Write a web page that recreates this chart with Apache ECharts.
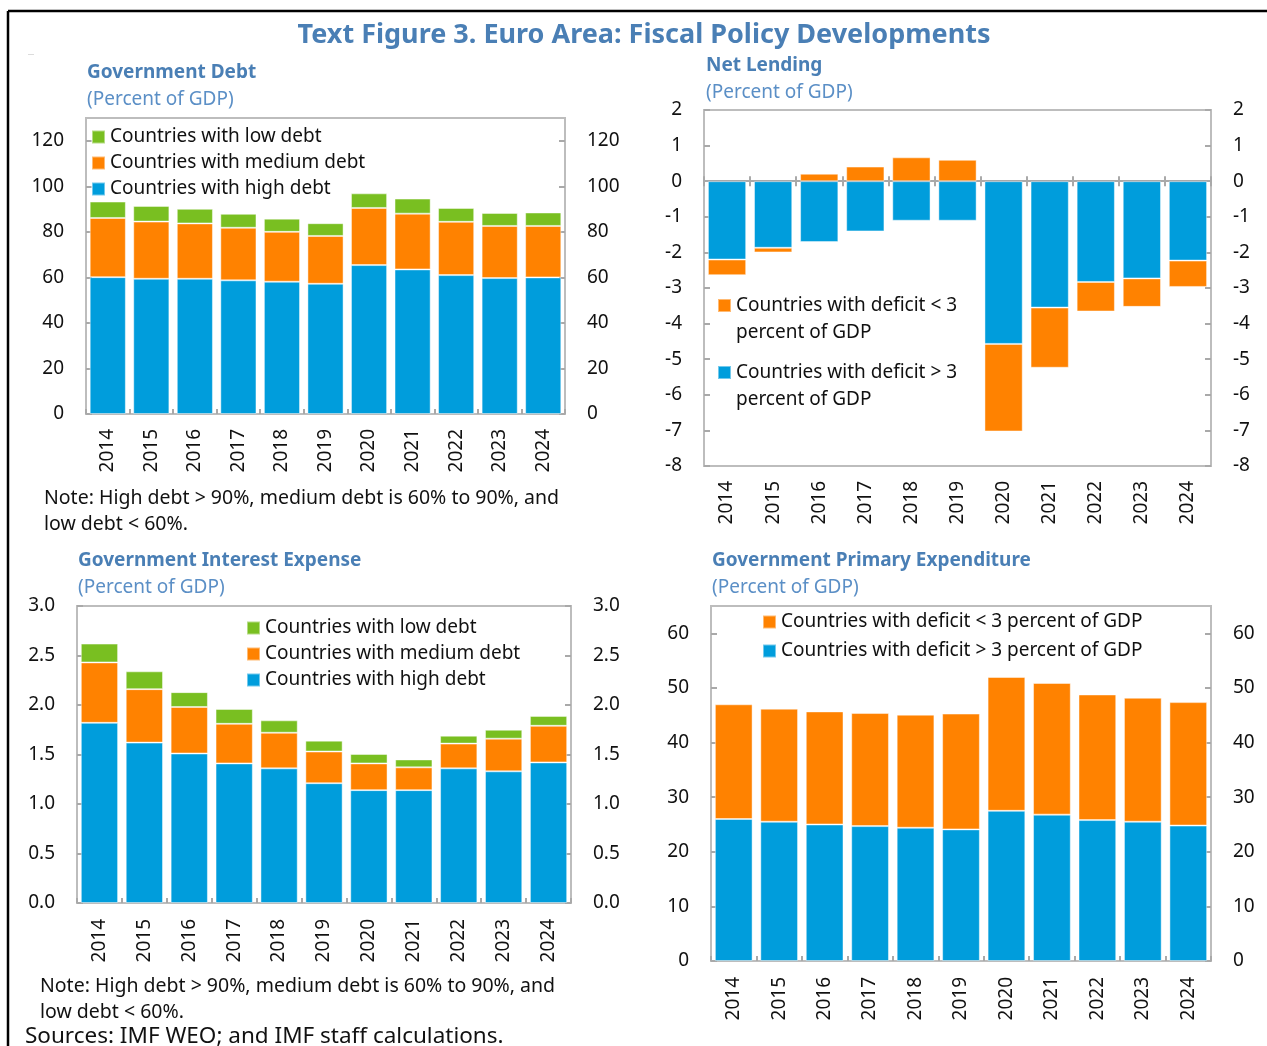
<!DOCTYPE html>
<html>
<head>
<meta charset="utf-8">
<title>Euro Area: Fiscal Policy Developments</title>
<script src="https://cdn.jsdelivr.net/npm/echarts@6/dist/echarts.min.js"></script>
<style>
  html, body { margin: 0; padding: 0; background: #fff; }
</style>
</head>
<body>
<div id="main" style="width: 1267px; height: 1046px;"></div>
<script>
// data
var years = ['2014', '2015', '2016', '2017', '2018', '2019', '2020', '2021', '2022', '2023', '2024']

// Government debt, percent of GDP (stacked contributions)
var debtHigh = [60.1, 59.4, 59.4, 58.7, 58.1, 57.2, 65.4, 63.5, 61.0, 59.7, 60.0]
var debtMedium = [26.0, 25.1, 24.3, 23.1, 21.9, 21.0, 25.1, 24.5, 23.4, 22.9, 22.6]
var debtLow = [7.2, 6.9, 6.4, 6.1, 5.8, 5.6, 6.4, 6.6, 6.1, 5.7, 5.9]

// Net lending, percent of GDP
var lendAbove3 = [-2.20, -1.87, -1.71, -1.41, -1.11, -1.11, -4.57, -3.55, -2.83, -2.73, -2.23]
var lendBelow3 = [-0.44, -0.13, 0.21, 0.41, 0.67, 0.60, -2.46, -1.69, -0.83, -0.80, -0.74]

// Interest expense, percent of GDP
var intHigh = [1.82, 1.62, 1.51, 1.41, 1.36, 1.21, 1.14, 1.14, 1.36, 1.33, 1.42]
var intMedium = [0.61, 0.54, 0.47, 0.40, 0.36, 0.32, 0.27, 0.23, 0.25, 0.33, 0.37]
var intLow = [0.19, 0.18, 0.15, 0.15, 0.125, 0.11, 0.095, 0.08, 0.08, 0.09, 0.10]

// Primary expenditure, percent of GDP
var expAbove3 = [26.0, 25.5, 25.0, 24.7, 24.4, 24.1, 27.5, 26.8, 25.8, 25.5, 24.8]
var expBelow3 = [21.0, 20.7, 20.7, 20.7, 20.7, 21.2, 24.5, 24.1, 23.0, 22.7, 22.6]

var BLUE = '#009ddc'
var ORANGE = '#ff8200'
var GREEN = '#79bf21'
var TITLE_BLUE = '#4a7fb5'
var SUB_BLUE = '#5b8fc6'
var FONT = 'Noto Sans'
var AXIS_GREY = '#a9a9a9'

var NAME_LOW = 'Countries with low debt'
var NAME_MED = 'Countries with medium debt'
var NAME_HIGH = 'Countries with high debt'
var NAME_DEF_LT = 'Countries with deficit < 3 percent of GDP'
var NAME_DEF_GT = 'Countries with deficit > 3 percent of GDP'

var myChart = echarts.init(document.getElementById('main'))

function makeGrid (left, top, width, height) {
  return {
    left: left, top: top, width: width, height: height,
    show: true, borderColor: '#bdbdbd', borderWidth: 2, containLabel: false
  }
}

function catAxis (gridIndex, margin) {
  return {
    type: 'category',
    gridIndex: gridIndex,
    data: years,
    axisLine: { show: false },
    axisTick: { show: true, inside: true, length: 5, lineStyle: { color: AXIS_GREY, width: 2 } },
    axisLabel: { rotate: 90, interval: 0, margin: margin, fontSize: 19, fontFamily: FONT, color: '#111' },
    splitLine: { show: false }
  }
}

function valAxis (gridIndex, position, min, max, interval, fmt) {
  return {
    type: 'value',
    gridIndex: gridIndex,
    position: position,
    min: min,
    max: max,
    interval: interval,
    axisLine: { show: false },
    axisTick: { show: true, inside: true, length: 6, lineStyle: { color: AXIS_GREY, width: 2 } },
    axisLabel: {
      margin: 22,
      fontSize: 19,
      fontFamily: FONT,
      color: '#111',
      showMaxLabel: max % interval === 0,
      formatter: fmt
    },
    splitLine: { show: false }
  }
}

function barSeries (name, data, color, xIdx, yIdx, stack) {
  return {
    name: name,
    type: 'bar',
    stack: stack,
    data: data,
    xAxisIndex: xIdx,
    yAxisIndex: yIdx,
    barCategoryGap: '17%',
    itemStyle: { color: color, borderColor: 'rgba(255,255,255,0.45)', borderWidth: 1 }
  }
}

function legendStyle (left, top, names, gap) {
  return {
    left: left,
    top: top,
    orient: 'vertical',
    padding: 0,
    itemGap: gap,
    itemWidth: 13,
    itemHeight: 13,
    icon: 'rect',
    selectedMode: false,
    data: names,
    textStyle: { fontSize: 19, fontFamily: FONT, color: '#111', lineHeight: 20 }
  }
}

function text (x, y, str, size, color, weight, align) {
  return {
    type: 'text',
    x: x,
    y: y,
    style: {
      text: str,
      fill: color,
      font: (weight || 'normal') + ' ' + size + 'px "' + FONT + '"',
      textAlign: align || 'left',
      textVerticalAlign: 'middle'
    }
  }
}

var oneDecimal = function (v) { return v.toFixed(1) }

var option = {
  backgroundColor: '#fff',
  animation: false,
  grid: [
    makeGrid(86, 118, 479, 296),
    makeGrid(704, 110, 507, 356),
    makeGrid(77, 606, 494, 297),
    makeGrid(711, 606, 500, 355)
  ],
  xAxis: [
    catAxis(0, 15),
    catAxis(1, 15),
    // zero line of net lending panel
    {
      type: 'category',
      gridIndex: 1,
      data: years,
      axisLine: { show: true, onZero: true, onZeroAxisIndex: 2, lineStyle: { color: AXIS_GREY, width: 2 } },
      axisTick: { show: true, inside: true, length: 5, lineStyle: { color: AXIS_GREY, width: 2 } },
      axisLabel: { show: false },
      splitLine: { show: false }
    },
    catAxis(2, 16),
    catAxis(3, 16)
  ],
  yAxis: [
    valAxis(0, 'left', 0, 130, 20),
    valAxis(0, 'right', 0, 130, 20),
    valAxis(1, 'left', -8, 2, 1),
    valAxis(1, 'right', -8, 2, 1),
    valAxis(2, 'left', 0, 3, 0.5, oneDecimal),
    valAxis(2, 'right', 0, 3, 0.5, oneDecimal),
    valAxis(3, 'left', 0, 65, 10),
    valAxis(3, 'right', 0, 65, 10)
  ],
  legend: [
    legendStyle(91, 127, [NAME_LOW, NAME_MED, NAME_HIGH], 6),
    Object.assign(legendStyle(717, 265, [NAME_DEF_LT, NAME_DEF_GT], -14), {
      // leading blank line keeps the square level with the first text line
      formatter: function (name) {
        return '\n' + name.replace(' < 3 ', ' < 3\n').replace(' > 3 ', ' > 3\n')
      },
      textStyle: { fontSize: 19, fontFamily: FONT, color: '#111', lineHeight: 27 }
    }),
    legendStyle(246, 618, [NAME_LOW, NAME_MED, NAME_HIGH], 6),
    legendStyle(762, 612, [NAME_DEF_LT, NAME_DEF_GT], 9)
  ],
  series: [
    barSeries(NAME_HIGH, debtHigh, BLUE, 0, 0, 'debt'),
    barSeries(NAME_MED, debtMedium, ORANGE, 0, 0, 'debt'),
    barSeries(NAME_LOW, debtLow, GREEN, 0, 0, 'debt'),

    barSeries(NAME_DEF_GT, lendAbove3, BLUE, 1, 2, 'lend'),
    barSeries(NAME_DEF_LT, lendBelow3, ORANGE, 1, 2, 'lend'),

    barSeries(NAME_HIGH, intHigh, BLUE, 3, 4, 'int'),
    barSeries(NAME_MED, intMedium, ORANGE, 3, 4, 'int'),
    barSeries(NAME_LOW, intLow, GREEN, 3, 4, 'int'),

    barSeries(NAME_DEF_GT, expAbove3, BLUE, 4, 6, 'exp'),
    barSeries(NAME_DEF_LT, expBelow3, ORANGE, 4, 6, 'exp')
  ],
  graphic: [
    // figure frame
    { type: 'line', shape: { x1: 8, y1: 11, x2: 1267, y2: 11 }, style: { stroke: '#000', lineWidth: 2.5 } },
    { type: 'line', shape: { x1: 8, y1: 11, x2: 8, y2: 1046 }, style: { stroke: '#000', lineWidth: 2.5 } },
    text(28, 54, '\u22ef', 6, '#999'),

    text(644, 35, 'Text Figure 3. Euro Area: Fiscal Policy Developments', 27, TITLE_BLUE, 'bold', 'center'),

    text(87, 73, 'Government Debt', 19, TITLE_BLUE, 'bold'),
    text(87, 100, '(Percent of GDP)', 19, SUB_BLUE),
    text(706, 66, 'Net Lending', 19, TITLE_BLUE, 'bold'),
    text(706, 93, '(Percent of GDP)', 19, SUB_BLUE),
    text(78, 561, 'Government Interest Expense', 19, TITLE_BLUE, 'bold'),
    text(78, 588, '(Percent of GDP)', 19, SUB_BLUE),
    text(712, 561, 'Government Primary Expenditure', 19, TITLE_BLUE, 'bold'),
    text(712, 588, '(Percent of GDP)', 19, SUB_BLUE),

    text(44, 498, 'Note: High debt > 90%, medium debt is 60% to 90%, and', 19.5, '#111'),
    text(44, 524, 'low debt < 60%.', 19.5, '#111'),
    text(40, 986, 'Note: High debt > 90%, medium debt is 60% to 90%, and', 19.5, '#111'),
    text(40, 1012, 'low debt < 60%.', 19.5, '#111'),
    text(25, 1037, 'Sources: IMF WEO; and IMF staff calculations.', 22.5, '#111')
  ]
}

myChart.setOption(option)
</script>
</body>
</html>
